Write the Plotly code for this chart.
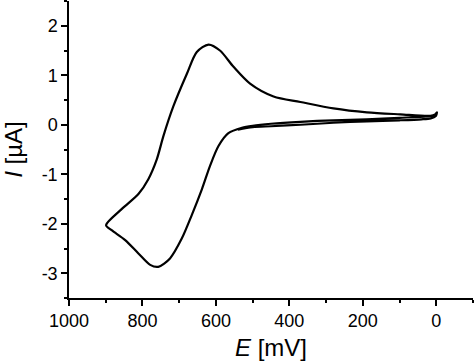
import plotly.graph_objects as go

# Potential E [mV] and current I [µA]
E_mV = [0, 25, 100, 189, 280, 370, 450, 500, 529, 566, 593, 616, 638, 666, 693, 725, 757, 779, 811, 847, 884, 899,
        856, 811, 784, 761, 743, 716, 679, 652, 620, 589, 552, 507, 443, 370, 280, 189, 98, 16, 3, -2,
        2, 15, 40, 100, 189, 280, 370, 450, 500, 540]
I_uA = [0.20, 0.17, 0.14, 0.11, 0.09, 0.06, 0.02, -0.02, -0.06, -0.17, -0.43, -0.83, -1.30, -1.83, -2.30, -2.70, -2.87, -2.83, -2.60, -2.33, -2.13, -2.03,
        -1.70, -1.40, -1.10, -0.70, -0.23, 0.37, 1.03, 1.47, 1.62, 1.50, 1.17, 0.83, 0.57, 0.46, 0.33, 0.25, 0.21, 0.18, 0.21, 0.25,
        0.17, 0.13, 0.11, 0.09, 0.07, 0.04, 0.00, -0.03, -0.05, -0.10]

x_ticks = [1000, 800, 600, 400, 200, 0]
y_ticks = [-3, -2, -1, 0, 1, 2]

fig = go.Figure(go.Scatter(x=E_mV, y=I_uA, mode="lines",
                           line=dict(color="black", width=2.2, shape="spline", smoothing=0.8),
                           showlegend=False, hoverinfo="skip"))

font_family = "Liberation Sans, Arial"
axis_common = dict(showgrid=False, zeroline=False, showline=True, linecolor="black", linewidth=1.5,
                   ticks="outside", ticklen=6, tickwidth=1.5, tickcolor="black",
                   tickfont=dict(family=font_family, size=18, color="black"))

fig.update_xaxes(range=[1000, -100], tickvals=x_ticks, ticktext=[str(v) for v in x_ticks],
                 minor=dict(ticks="outside", ticklen=3, tickwidth=1.5, tickcolor="black", dtick=100, tick0=0),
                 title=dict(text="<i>E</i> [mV]", font=dict(family=font_family, size=24, color="black"), standoff=9),
                 **axis_common)
fig.update_yaxes(range=[-3.5, 2.5], tickvals=y_ticks, ticktext=[str(v) for v in y_ticks],
                 minor=dict(ticks="outside", ticklen=3, tickwidth=1.5, tickcolor="black", dtick=0.5, tick0=0),
                 title=dict(text="<i>I</i> [µA]", font=dict(family=font_family, size=24, color="black"), standoff=17),
                 **axis_common)

fig.update_layout(width=474, height=364, margin=dict(l=69, r=1, t=1, b=66, autoexpand=False),
                  paper_bgcolor="white", plot_bgcolor="white")

fig.write_html("out.html", config={"displayModeBar": False},
               post_script="document.body.style.margin='0';")
